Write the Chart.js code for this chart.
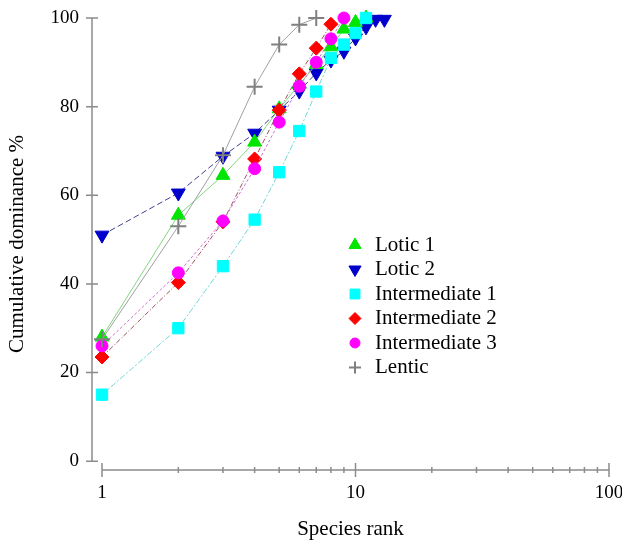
<!DOCTYPE html>
<html>
<head>
<meta charset="utf-8">
<title>Cumulative dominance</title>
<script src="https://cdn.jsdelivr.net/npm/chart.js@4/dist/chart.umd.min.js"></script>
<style>
  html, body { margin: 0; padding: 0; background: #fff; }
  canvas { display: block; }
</style>
</head>
<body>
<canvas id="chart" width="622" height="542"></canvas>
<script>
// Series values (cumulative dominance %, in species rank order 1, 2, 3, ...)
const lotic1 = [28, 55.5, 64.5, 72, 79.5, 85, 89.5, 93.5, 97.5, 99, 100];
const lotic2 = [51, 60.5, 68.8, 74, 79.2, 83.5, 87.6, 90.5, 92.5, 95.5, 98, 99.7, 99.7];
const intermediate1 = [15, 30, 44, 54.5, 65.2, 74.5, 83.4, 91, 94, 96.6, 100];
const intermediate2 = [23.5, 40.3, 54, 68.2, 79.2, 87.4, 93.2, 98.6];
const intermediate3 = [26, 42.5, 54.2, 66, 76.5, 84.6, 90, 95.3, 100];
const lentic = [27.5, 53, 69, 84.5, 94, 98.5, 100];

// Series names
const seriesNames = ['Lotic 1', 'Lotic 2', 'Intermediate 1', 'Intermediate 2', 'Intermediate 3', 'Lentic'];

// Tick values
const xTicks = [1, 2, 3, 4, 5, 6, 7, 8, 9, 10, 20, 30, 40, 50, 60, 70, 80, 90, 100];
const xLabelTicks = [1, 10, 100];
const yTicks = [0, 20, 40, 60, 80, 100];

const serif = "'Liberation Serif', 'Times New Roman', serif";
Chart.defaults.font.family = serif;
Chart.defaults.font.size = 19;
Chart.defaults.color = '#000';

// turn a list of values into rank / value points
function toPoints(values) {
  return values.map((v, i) => ({ x: i + 1, y: v }));
}

// Draws the axis lines and the tick marks that cross them
const axisPlugin = {
  id: 'axisLines',
  beforeDatasetsDraw(chart) {
    const ctx = chart.ctx;
    const xs = chart.scales.x;
    const ys = chart.scales.y;
    const left = chart.chartArea.left;
    const bottom = chart.chartArea.bottom;
    ctx.save();
    ctx.strokeStyle = '#8c8c8c';
    ctx.lineWidth = 1.5;
    ctx.beginPath();
    ctx.moveTo(left, ys.getPixelForValue(0));
    ctx.lineTo(left, ys.getPixelForValue(100));
    yTicks.forEach(v => {
      const y = ys.getPixelForValue(v);
      ctx.moveTo(left - 6, y);
      ctx.lineTo(left + 6, y);
    });
    ctx.moveTo(xs.getPixelForValue(1), bottom);
    ctx.lineTo(xs.getPixelForValue(100), bottom);
    xTicks.forEach(v => {
      const x = xs.getPixelForValue(v);
      const half = xLabelTicks.includes(v) ? 7 : 3;
      ctx.moveTo(x, bottom - half);
      ctx.lineTo(x, bottom + half);
    });
    ctx.stroke();
    ctx.restore();
  }
};

// Legend inside the plot area
const legendPlugin = {
  id: 'insideLegend',
  afterDraw(chart) {
    const ctx = chart.ctx;
    ctx.save();
    chart.data.datasets.forEach((ds, i) => {
      const y = 245 + i * 24.5;
      ctx.fillStyle = ds.pointBackgroundColor;
      ctx.strokeStyle = ds.pointBorderColor;
      ctx.lineWidth = ds.pointBorderWidth;
      Chart.helpers.drawPoint(ctx, {
        pointStyle: ds.pointStyle,
        rotation: ds.pointRotation,
        radius: ds.legendRadius,
        borderWidth: ds.pointBorderWidth
      }, 355, y);
      ctx.fillStyle = '#000';
      ctx.font = '21px ' + serif;
      ctx.textAlign = 'left';
      ctx.textBaseline = 'middle';
      ctx.fillText(ds.label, 375, y);
    });
    ctx.restore();
  }
};

const chart = new Chart(document.getElementById('chart'), {
  type: 'line',
  data: {
    datasets: [
      {
        label: seriesNames[0], data: toPoints(lotic1), order: 4,
        borderColor: '#80d680', borderWidth: 1,
        pointStyle: 'triangle', pointRotation: 0, pointRadius: 8, legendRadius: 7,
        pointBackgroundColor: '#00e600', pointBorderColor: '#00e600', pointBorderWidth: 1
      },
      {
        label: seriesNames[1], data: toPoints(lotic2), order: 5,
        borderColor: '#404090', borderWidth: 1, borderDash: [6, 3],
        pointStyle: 'triangle', pointRotation: 180, pointRadius: 8, legendRadius: 7,
        pointBackgroundColor: '#0000cc', pointBorderColor: '#0000cc', pointBorderWidth: 1
      },
      {
        label: seriesNames[2], data: toPoints(intermediate1), order: 3,
        borderColor: '#70d8d8', borderWidth: 1, borderDash: [6, 2, 2, 2],
        pointStyle: 'rect', pointRadius: 8, legendRadius: 7,
        pointBackgroundColor: '#00ffff', pointBorderColor: '#00ffff', pointBorderWidth: 1
      },
      {
        label: seriesNames[3], data: toPoints(intermediate2), order: 2,
        borderColor: '#a05060', borderWidth: 1, borderDash: [5, 2, 1, 2],
        pointStyle: 'rectRot', pointRadius: 7, legendRadius: 6,
        pointBackgroundColor: '#ff0000', pointBorderColor: '#ff0000', pointBorderWidth: 1
      },
      {
        label: seriesNames[4], data: toPoints(intermediate3), order: 1,
        borderColor: '#d070d0', borderWidth: 1, borderDash: [3, 2],
        pointStyle: 'circle', pointRadius: 6, legendRadius: 5,
        pointBackgroundColor: '#ff00ff', pointBorderColor: '#ff00ff', pointBorderWidth: 1
      },
      {
        label: seriesNames[5], data: toPoints(lentic), order: 0,
        borderColor: '#a0a0a0', borderWidth: 1,
        pointStyle: 'cross', pointRadius: 8, legendRadius: 6,
        pointBackgroundColor: '#808080', pointBorderColor: '#808080', pointBorderWidth: 2
      }
    ]
  },
  options: {
    responsive: false,
    animation: false,
    clip: false,
    layout: { padding: { top: 18, right: 13, bottom: 0, left: 0 } },
    plugins: {
      legend: { display: false },
      tooltip: { enabled: false }
    },
    scales: {
      x: {
        type: 'logarithmic',
        min: 0.913,
        max: 100,
        border: { display: false },
        grid: { display: false, drawTicks: false },
        afterBuildTicks: scale => { scale.ticks = xTicks.map(v => ({ value: v })); },
        afterFit: scale => {
          scale.height = 72;
          scale.paddingLeft = 0;
          scale.paddingRight = 0;
        },
        ticks: {
          autoSkip: false,
          maxRotation: 0,
          padding: 12,
          callback: v => xLabelTicks.includes(v) ? String(v) : ''
        },
        title: { display: true, text: 'Species rank', font: { size: 21 }, padding: { top: 0, bottom: 0 } }
      },
      y: {
        min: -2,
        max: 100,
        border: { display: false },
        grid: { display: false, drawTicks: false },
        afterBuildTicks: scale => { scale.ticks = yTicks.map(v => ({ value: v })); },
        afterFit: scale => {
          scale.width = 92;
          scale.paddingTop = 0;
          scale.paddingBottom = 0;
        },
        ticks: { padding: 13 },
        title: { display: true, text: 'Cumulative dominance %', font: { size: 21 }, padding: { top: 5, bottom: 0 } }
      }
    }
  },
  plugins: [axisPlugin, legendPlugin]
});
</script>
</body>
</html>
